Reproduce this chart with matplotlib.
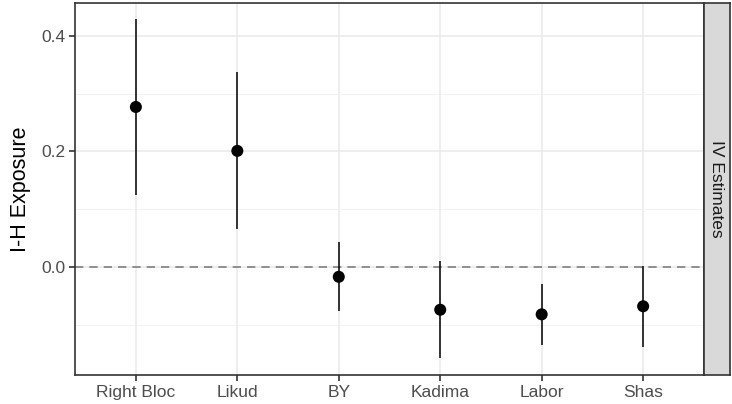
import numpy as np
import matplotlib
matplotlib.use("Agg")
import matplotlib.pyplot as plt
from matplotlib.ticker import MultipleLocator

parties = ["Right Bloc", "Likud", "BY", "Kadima", "Labor", "Shas"]
estimate = [0.277, 0.201, -0.017, -0.074, -0.082, -0.068]
lower = [0.125, 0.065, -0.077, -0.158, -0.135, -0.139]
upper = [0.429, 0.338, 0.043, 0.010, -0.029, 0.002]

W, H = 732, 404
fig = plt.figure(figsize=(W / 100, H / 100), dpi=100)
plt.rcParams["font.family"] = "Liberation Sans"

# panel in pixel coordinates
px0, px1, py0, py1 = 75, 704, 3, 375
ax = fig.add_axes([px0 / W, 1 - py1 / H, (px1 - px0) / W, (py1 - py0) / H])

x = np.arange(1, len(parties) + 1)
ax.set_xlim(0.4, len(parties) + 0.6)
ax.set_ylim(-0.187, 0.457)

ax.yaxis.set_major_locator(MultipleLocator(0.2))
ax.yaxis.set_minor_locator(MultipleLocator(0.1))
ax.grid(True, which="major", color="#EBEBEB", lw=1.2)
ax.grid(True, which="minor", axis="y", color="#F2F2F2", lw=0.7)
ax.set_axisbelow(True)

ax.axhline(0, color="#7F7F7F", lw=1.2, ls=(0, (5, 3.6)), zorder=1)
ax.vlines(x, lower, upper, color="black", lw=1.1, zorder=2)
ax.scatter(x, estimate, s=75, color="black", zorder=3, edgecolors="none")

ax.set_xticks(x)
ax.set_xticklabels(parties)
ax.set_yticks([0.0, 0.2, 0.4])
ax.set_yticklabels(["0.0", "0.2", "0.4"])
ax.tick_params(which="major", length=4, width=1.2, color="#333333",
               labelsize=12.5, labelcolor="#4D4D4D", pad=3)
ax.tick_params(which="minor", length=0)
for s in ax.spines.values():
    s.set_color("#333333")
    s.set_linewidth(1.2)
ax.set_ylabel("I-H Exposure", fontsize=15.5, labelpad=7)

# facet strip on the right
sx0, sx1 = 704, 730
sax = fig.add_axes([sx0 / W, 1 - py1 / H, (sx1 - sx0) / W, (py1 - py0) / H])
sax.set_facecolor("#D9D9D9")
sax.set_xticks([])
sax.set_yticks([])
for s in sax.spines.values():
    s.set_color("#333333")
    s.set_linewidth(1.2)
sax.text(0.5, 0.5, "IV Estimates", rotation=-90, ha="center", va="center",
         fontsize=12.5, color="#1A1A1A", transform=sax.transAxes)

fig.savefig("out.png", dpi=100)
